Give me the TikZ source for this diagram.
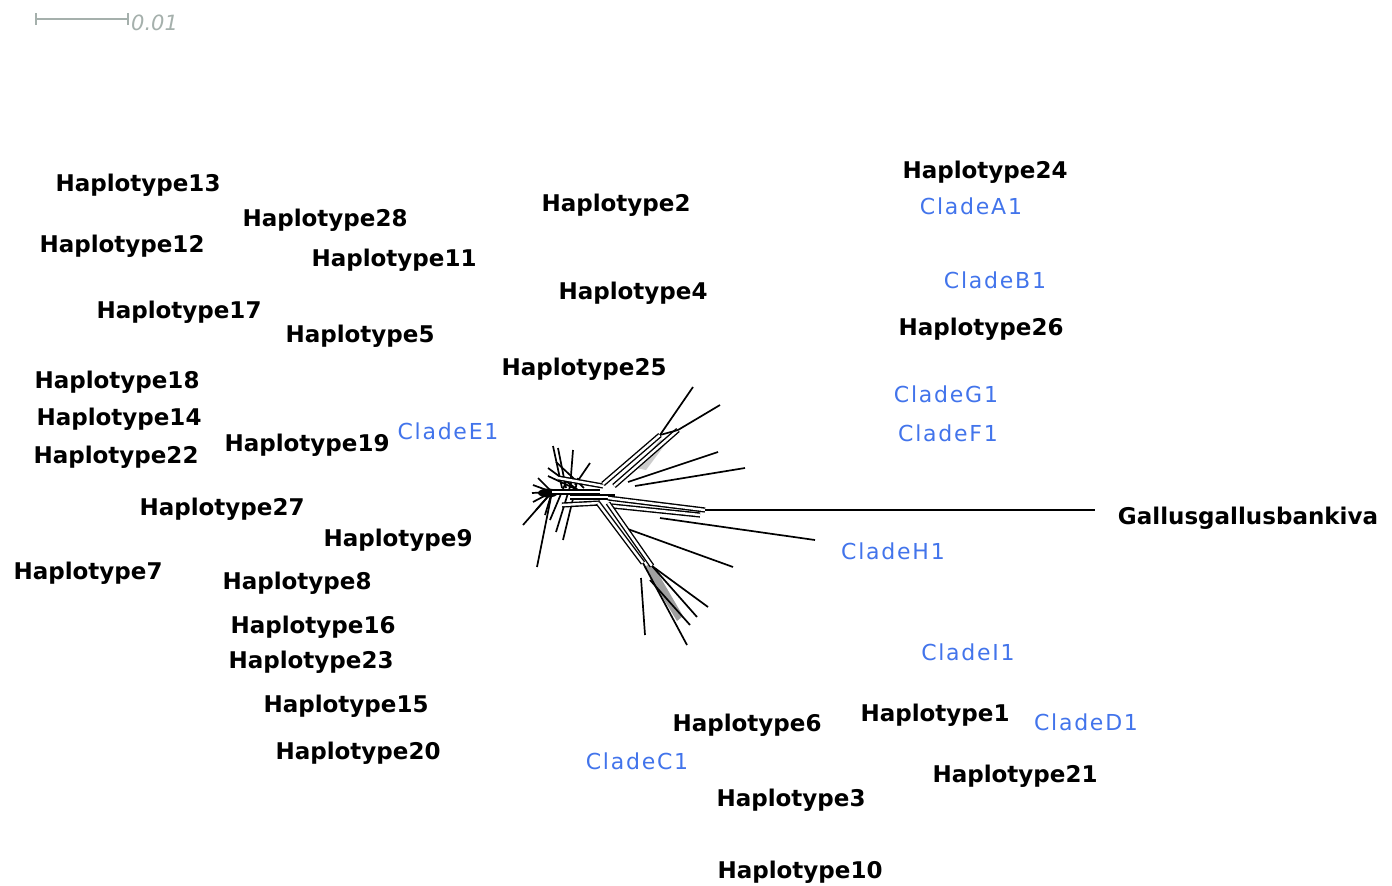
\documentclass[tikz,border=0pt]{standalone}
\usepackage{fontspec}
\setmainfont{DejaVu Sans}
\newfontfamily\cladefont[LetterSpace=8]{DejaVu Sans}
\definecolor{cladeblue}{RGB}{66,116,235}
\definecolor{scalegray}{RGB}{165,176,172}
\tikzset{
  hap/.style={font=\fontsize{23}{26}\selectfont\bfseries, text=black, inner sep=0pt},
  clade/.style={font=\cladefont\fontsize{22}{25}\selectfont, text=cladeblue, inner sep=0pt},
  edge/.style={line width=1.7pt, black},
  bundle/.style={line width=1.4pt, double=white, double distance=2.4pt, black},
}
\begin{document}
\begin{tikzpicture}[x=1pt,y=-1pt]
\useasboundingbox (0,0) rectangle (1392,886);
% scale bar
\coordinate (s1) at (36,19);
\coordinate (s2) at (128,19);
\draw[scalegray, line width=1.5pt] (s1) -- (s2);
\draw[scalegray, line width=1.5pt] ([yshift=-6pt]s1) -- ([yshift=6pt]s1);
\draw[scalegray, line width=1.5pt] ([yshift=-6pt]s2) -- ([yshift=6pt]s2);
\node[anchor=west, text=scalegray, font=\fontsize{21}{23}\selectfont\itshape, inner sep=0pt] (scale) at (131,23) {0.01};

% network hubs
\coordinate (L) at (552,492);
\coordinate (C) at (600,492);
\coordinate (U1) at (660,435);
\coordinate (U2) at (678,430);
\coordinate (R) at (705,510);
\coordinate (D1) at (643,563);
\coordinate (D2) at (652,566);

% left cluster
\foreach \p in {(523,525),(537,567),(533,485),(532,493),(533,502),(538,478),(536,510),(545,515)}
  \draw[edge] (L) -- \p;
\draw[edge] (562,488) -- (553,446);
\draw[edge] (566,488) -- (558,448);
\draw[edge] (570,488) -- (573,450);
\draw[edge] (575,485) -- (590,463);
\draw[edge] (578,490) -- (548,468);
\draw[edge] (582,492) -- (548,476);
\draw[edge] (584,488) -- (556,462);
\draw[edge] (578,478) -- (563,540);
\draw[edge] (572,480) -- (556,532);
\draw[edge] (566,482) -- (550,520);
\fill (548,493) ellipse (10pt and 4.5pt);
\draw[bundle] (L) -- (C);
\draw[bundle] (558,478) -- (603,486);
\draw[bundle] (562,505) -- (600,503);
\draw[bundle] (570,497) -- (615,497);

% upper branch
\fill[gray!40] (636,468) -- (660,440) -- (670,438) -- (646,470) -- cycle;
\draw[bundle] (603,484) -- (U1);
\draw[edge] (U1) -- (693,387);
\draw[bundle] (614,486) -- (U2);
\draw[edge] (U2) -- (720,405);
\draw[edge] (U1) -- (U2);
\draw[edge] (628,482) -- (718,452);
\draw[edge] (635,486) -- (745,468);

% right bundle
\draw[bundle] (608,498) -- (R);
\draw[bundle] (612,506) -- (700,515);
\draw[edge] (R) -- (1095,510);
\draw[edge] (660,518) -- (815,540);
\draw[edge] (625,528) -- (733,567);

% lower branch
\fill[gray!75] (644,567) -- (652,563) -- (683,616) -- (677,621) -- cycle;
\draw[bundle] (598,503) -- (D1);
\draw[bundle] (608,503) -- (D2);
\draw[edge] (D1) -- (687,645);
\draw[edge] (D2) -- (708,607);
\draw[edge] (D2) -- (697,617);
\draw[edge] (641,578) -- (645,635);
\draw[edge] (650,580) -- (690,625);

% labels
\node[hap] (h13) at (138,185) {Haplotype13};
\node[hap] (h28) at (325,220) {Haplotype28};
\node[hap] (h12) at (122,246) {Haplotype12};
\node[hap] (h11) at (394,260) {Haplotype11};
\node[hap] (h2) at (616,205) {Haplotype2};
\node[hap] (h4) at (633,293) {Haplotype4};
\node[hap] (h17) at (179,312) {Haplotype17};
\node[hap] (h5) at (360,336) {Haplotype5};
\node[hap] (h25) at (584,369) {Haplotype25};
\node[hap] (h18) at (117,382) {Haplotype18};
\node[hap] (h14) at (119,419) {Haplotype14};
\node[hap] (h22) at (116,457) {Haplotype22};
\node[hap] (h19) at (307,445) {Haplotype19};
\node[clade] (cE) at (448,431) {CladeE1};
\node[hap] (h27) at (222,509) {Haplotype27};
\node[hap] (h9) at (398,540) {Haplotype9};
\node[hap] (h7) at (88,573) {Haplotype7};
\node[hap] (h8) at (297,583) {Haplotype8};
\node[hap] (h16) at (313,627) {Haplotype16};
\node[hap] (h23) at (311,662) {Haplotype23};
\node[hap] (h15) at (346,706) {Haplotype15};
\node[hap] (h20) at (358,753) {Haplotype20};
\node[hap] (h6) at (747,725) {Haplotype6};
\node[clade] (cC) at (637,761) {CladeC1};
\node[hap] (h3) at (791,800) {Haplotype3};
\node[hap] (h10) at (800,872) {Haplotype10};
\node[hap] (h1) at (935,715) {Haplotype1};
\node[clade] (cD) at (1086,722) {CladeD1};
\node[hap] (h21) at (1015,776) {Haplotype21};
\node[clade] (cI) at (968,652) {CladeI1};
\node[clade] (cH) at (893,551) {CladeH1};
\node[hap] (gg) at (1248,518) {Gallusgallusbankiva};
\node[clade] (cF) at (948,433) {CladeF1};
\node[clade] (cG) at (946,394) {CladeG1};
\node[hap] (h26) at (981,329) {Haplotype26};
\node[clade] (cB) at (995,280) {CladeB1};
\node[hap] (h24) at (985,172) {Haplotype24};
\node[clade] (cA) at (971,206) {CladeA1};
\end{tikzpicture}
\end{document}
